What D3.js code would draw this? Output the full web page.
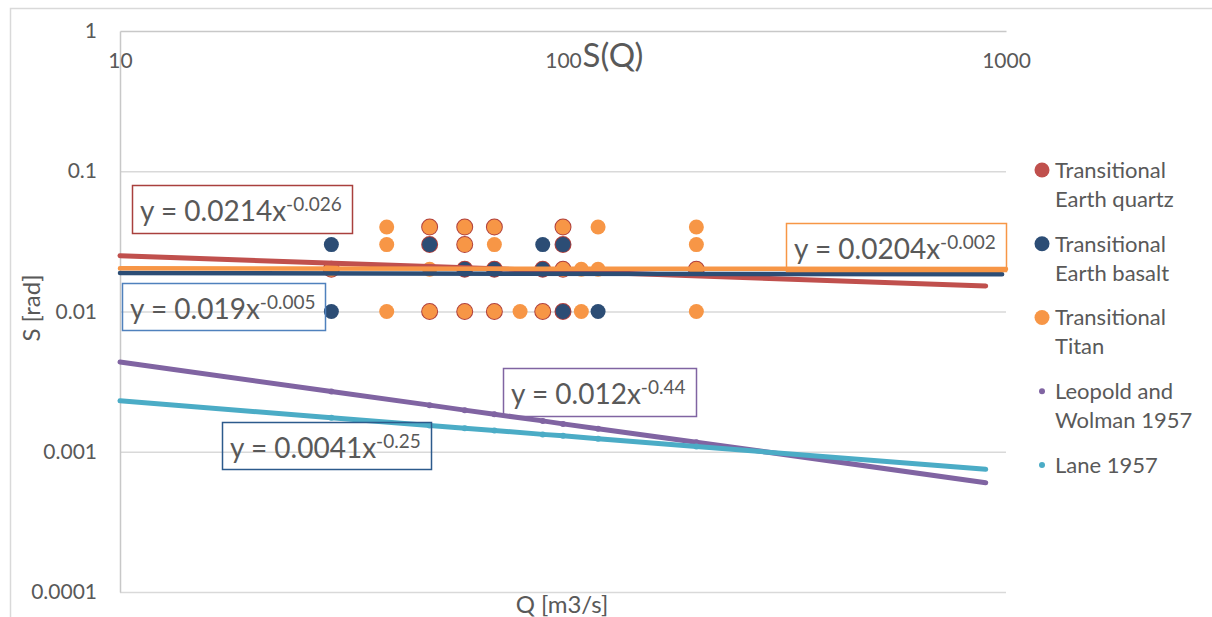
<!DOCTYPE html>
<html>
<head>
<meta charset="utf-8">
<script src="https://cdnjs.cloudflare.com/ajax/libs/d3/7.8.5/d3.min.js"></script>
<style>
  body { margin: 0; background: #fff; }
  svg { display: block; font-family: Lato, "Open Sans", sans-serif; }
  .axis text { fill: #595959; font-size: 21px; font-family: Lato, sans-serif; }
</style>
</head>
<body>
<svg width="1212" height="617"></svg>
<script>
// discharge Q [m3/s] vs slope S [rad]
var quartzQ = [30, 50, 50, 50, 60, 60, 60, 60, 70, 70, 70, 90, 90, 100, 100, 100, 100, 200];
var quartzS = [0.02, 0.04, 0.03, 0.01, 0.04, 0.03, 0.02, 0.01, 0.04, 0.02, 0.01, 0.02, 0.01, 0.04, 0.03, 0.02, 0.01, 0.02];

var basaltQ = [30, 30, 50, 60, 70, 90, 90, 100, 100, 120];
var basaltS = [0.03, 0.01, 0.03, 0.02, 0.02, 0.03, 0.02, 0.03, 0.01, 0.01];

var titanQ = [30, 40, 40, 40, 50, 50, 50, 60, 60, 60, 70, 70, 70, 80, 90, 100, 100, 110, 110, 120, 120, 200, 200, 200, 200];
var titanS = [0.02, 0.04, 0.03, 0.01, 0.04, 0.02, 0.01, 0.04, 0.03, 0.01, 0.04, 0.03, 0.01, 0.01, 0.01, 0.04, 0.02, 0.02, 0.01, 0.04, 0.02, 0.04, 0.03, 0.02, 0.01];

// fitted lines, end points
var quartzTrendQ = [10, 900];
var quartzTrendS = [0.0250, 0.0152];
var basaltTrendQ = [10, 980];
var basaltTrendS = [0.0188, 0.0184];
var titanTrendQ = [10, 1000];
var titanTrendS = [0.0203, 0.0201];

// reference relations
var refQ = [10, 30, 50, 60, 70, 90, 100, 120, 200, 900];
var leopoldS = [0.00436, 0.00269, 0.00215, 0.00198, 0.00185, 0.00166, 0.00158, 0.00146, 0.00117, 0.000602];
var laneS = [0.00231, 0.00175, 0.00154, 0.00147, 0.00142, 0.00133, 0.00130, 0.00124, 0.00109, 0.000749];

var xTicks = [10, 100, 1000];
var xTickLabels = ['10', '100', '1000'];
var yTicks = [1, 0.1, 0.01, 0.001, 0.0001];
var yTickLabels = ['1', '0.1', '0.01', '0.001', '0.0001'];

var legendNames = [['Transitional', 'Earth quartz'], ['Transitional', 'Earth basalt'], ['Transitional', 'Titan'], ['Leopold and', 'Wolman 1957'], ['Lane 1957']];
var eqMain = ['y = 0.0214x', 'y = 0.019x', 'y = 0.0204x', 'y = 0.012x', 'y = 0.0041x'];
var eqExp = ['-0.026', '-0.005', '-0.002', '-0.44', '-0.25'];

// styling / layout
var colors = ['#c0504d', '#2c4d75', '#f79646', '#8064a2', '#4bacc6'];
var eqBorder = ['#a9403d', '#4f81bd', '#f79646', '#8064a2', '#2c5a8c'];
var eqBox = [[132, 185, 220, 48], [122, 283, 203, 47], [786, 223, 220, 48], [503, 368, 193, 48], [222, 422, 209, 47]];

var svg = d3.select('svg');
var plotL = 120, plotR = 1006, plotT = 31, plotB = 592;

var x = d3.scaleLog().domain([10, 1000]).range([plotL, plotR]);
var y = d3.scaleLog().domain([0.0001, 1]).range([plotB, plotT]);

// chart border
svg.append('rect')
    .attr('x', 10.5).attr('y', 8.5)
    .attr('width', 1220).attr('height', 640)
    .attr('fill', 'none')
    .attr('stroke', '#d9d9d9')
    .attr('stroke-width', 1.5);

// gridlines
var grid = svg.append('g')
    .attr('transform', 'translate(' + plotL + ',0)')
    .call(d3.axisLeft(y).tickValues(yTicks.slice(1)).tickSize(-(plotR - plotL)).tickFormat(''));
grid.select('.domain').remove();
grid.selectAll('line').attr('stroke', '#d9d9d9').attr('stroke-width', 1.5);

// y axis
var yAxis = svg.append('g')
    .attr('class', 'axis')
    .attr('transform', 'translate(' + plotL + ',0)')
    .call(d3.axisLeft(y).tickValues(yTicks).tickSize(0).tickPadding(23)
        .tickFormat((d, i) => yTickLabels[i]));
yAxis.select('.domain').attr('stroke', '#c8c8c8').attr('stroke-width', 1.5);

// x axis sits on top, labels below it
var xAxis = svg.append('g')
    .attr('class', 'axis')
    .attr('transform', 'translate(0,' + plotT + ')')
    .call(d3.axisBottom(x).tickValues(xTicks).tickSize(0).tickPadding(22)
        .tickFormat((d, i) => xTickLabels[i]));
xAxis.select('.domain').attr('stroke', '#c8c8c8').attr('stroke-width', 1.5);

// title and axis titles
svg.append('text')
    .attr('x', 613).attr('y', 67)
    .attr('text-anchor', 'middle')
    .attr('fill', '#595959')
    .style('font-size', '33px')
    .text('S(Q)');

svg.append('text')
    .attr('transform', 'translate(40,308) rotate(-90)')
    .attr('text-anchor', 'middle')
    .attr('fill', '#595959')
    .style('font-size', '24px')
    .text('S [rad]');

svg.append('text')
    .attr('x', 562).attr('y', 613)
    .attr('text-anchor', 'middle')
    .attr('fill', '#595959')
    .style('font-size', '24px')
    .text('Q [m3/s]');

// scatter series, drawn in legend order (quartz gets a rim that peeks out)
var scatter = [
    { q: quartzQ, s: quartzS, color: colors[0], stroke: '#b0403d', sw: 2 },
    { q: basaltQ, s: basaltS, color: colors[1], stroke: 'none', sw: 0 },
    { q: titanQ, s: titanS, color: colors[2], stroke: 'none', sw: 0 }
];
scatter.forEach(ser => {
    svg.append('g').selectAll('circle')
        .data(d3.zip(ser.q, ser.s))
        .enter().append('circle')
        .attr('cx', d => x(d[0]))
        .attr('cy', d => y(d[1]))
        .attr('r', 7.5)
        .attr('fill', ser.color)
        .attr('stroke', ser.stroke)
        .attr('stroke-width', ser.sw);
});

var line = d3.line()
    .x(d => x(d[0]))
    .y(d => y(d[1]));

var trends = [
    { d: d3.zip(quartzTrendQ, quartzTrendS), color: colors[0], w: 5 },
    { d: d3.zip(basaltTrendQ, basaltTrendS), color: colors[1], w: 4.5 },
    { d: d3.zip(titanTrendQ, titanTrendS), color: colors[2], w: 4.5 }
];
trends.forEach(t => {
    svg.append('path')
        .attr('d', line(t.d))
        .attr('fill', 'none')
        .attr('stroke', t.color)
        .attr('stroke-width', t.w)
        .attr('stroke-linecap', 'round');
});

var refs = [
    { d: d3.zip(refQ, leopoldS), color: colors[3] },
    { d: d3.zip(refQ, laneS), color: colors[4] }
];
refs.forEach(r => {
    svg.append('path')
        .attr('d', line(r.d))
        .attr('fill', 'none')
        .attr('stroke', r.color)
        .attr('stroke-width', 5)
        .attr('stroke-linecap', 'round')
        .attr('stroke-linejoin', 'round');
    svg.append('g').selectAll('circle')
        .data(r.d.slice(1, -1))
        .enter().append('circle')
        .attr('cx', d => x(d[0]))
        .attr('cy', d => y(d[1]))
        .attr('r', 3)
        .attr('fill', r.color);
});

// equation labels
eqMain.forEach((t, i) => {
    var b = eqBox[i];
    var g = svg.append('g');
    g.append('rect')
        .attr('x', b[0] + 0.5).attr('y', b[1] + 0.5)
        .attr('width', b[2]).attr('height', b[3])
        .attr('fill', 'none')
        .attr('stroke', eqBorder[i])
        .attr('stroke-width', 1.5);
    var txt = g.append('text')
        .attr('x', b[0] + 8).attr('y', b[1] + 36)
        .attr('fill', '#595959')
        .style('font-size', '28px');
    txt.append('tspan').text(t);
    txt.append('tspan')
        .attr('dy', -10)
        .style('font-size', '19px')
        .text(eqExp[i]);
});

// legend
var legend = svg.append('g').attr('transform', 'translate(1042,0)');
legendNames.forEach((lines, i) => {
    var cy = 170 + i * 73.75;
    legend.append('circle')
        .attr('cx', 0).attr('cy', cy)
        .attr('r', i < 3 ? 7.5 : 3)
        .attr('fill', colors[i]);
    lines.forEach((l, j) => {
        legend.append('text')
            .attr('x', 13).attr('y', cy + j * 29)
            .attr('dy', '0.36em')
            .attr('fill', '#595959')
            .style('font-size', '22px')
            .text(l);
    });
});
</script>
</body>
</html>
